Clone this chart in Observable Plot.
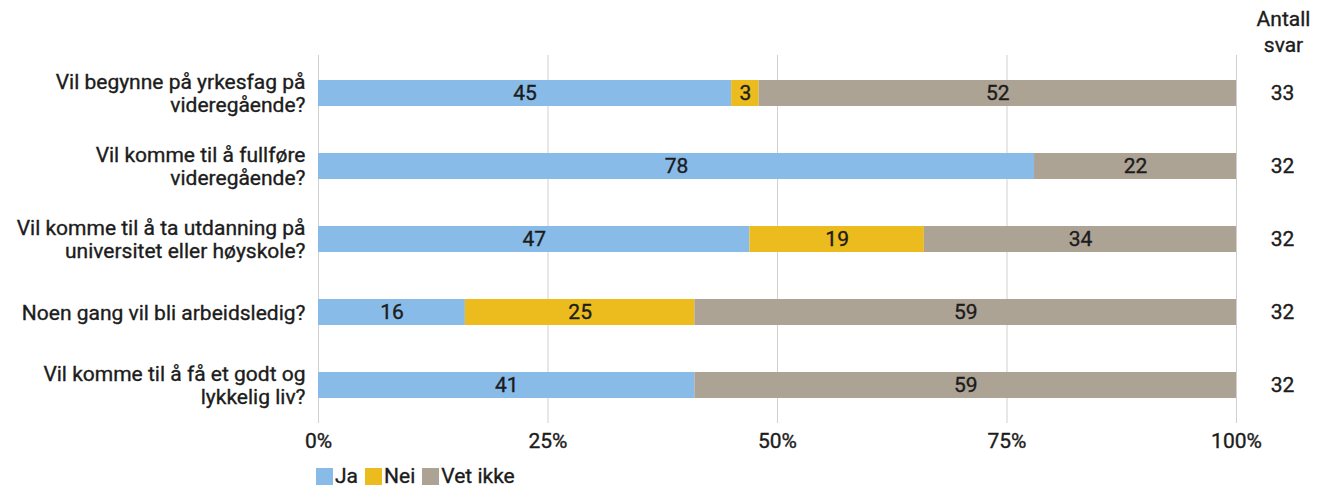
<!DOCTYPE html>
<html>
<head>
<meta charset="utf-8">
<script src="https://cdn.jsdelivr.net/npm/d3@7"></script>
<script src="https://cdn.jsdelivr.net/npm/@observablehq/plot@0.6"></script>
<style>
  html, body { margin: 0; padding: 0; background: #fff; }
  body { width: 1326px; height: 492px; font-family: Roboto, "Noto Sans", sans-serif; color: #1c1c1c; }
  #legend { display: flex; gap: 7px; margin-left: 316px; margin-top: 9px; font-size: 21px; align-items: center; -webkit-text-stroke: 0.35px #1c1c1c; }
  .item { display: flex; align-items: center; gap: 2px; }
  .sw { width: 17px; height: 17px; display: inline-block; }
  svg text { stroke: #1c1c1c; stroke-width: 0.35px; }
</style>
</head>
<body>
<div id="chart"></div>
<div id="legend"></div>
<script>
const questions = [
  "Vil begynne på yrkesfag på\nvideregående?",
  "Vil komme til å fullføre\nvideregående?",
  "Vil komme til å ta utdanning på\nuniversitet eller høyskole?",
  "Noen gang vil bli arbeidsledig?",
  "Vil komme til å få et godt og\nlykkelig liv?"
];
const categories = ["Ja", "Nei", "Vet ikke"];
const ja = [45, 78, 47, 16, 41];
const nei = [3, 0, 19, 25, 0];
const vetIkke = [52, 22, 34, 59, 59];
const antall = [33, 32, 32, 32, 32];
const xTicks = [0, 25, 50, 75, 100];
const colors = ["#89bbe8", "#ecbc1e", "#aca395"];

const series = [ja, nei, vetIkke];
const data = [];
questions.forEach((q, i) => {
  categories.forEach((c, j) => data.push({q, cat: c, value: series[j][i]}));
});
const counts = questions.map((q, i) => ({q, n: antall[i]}));

const FS = 21;
const chart = Plot.plot({
  width: 1326,
  height: 455,
  marginLeft: 318,
  marginRight: 90,
  marginTop: 55,
  marginBottom: 32,
  style: {fontFamily: "Roboto, 'Noto Sans', sans-serif", fontSize: FS + "px", color: "#1c1c1c", background: "#fff"},
  x: {domain: [0, 100], ticks: xTicks},
  y: {domain: questions, paddingInner: 0.64, paddingOuter: 0.32},
  color: {domain: categories, range: colors},
  marks: [
    Plot.gridX(xTicks, {stroke: "#d0d0d0", strokeOpacity: 1}),
    Plot.barX(data, {x: "value", y: "q", fill: "cat", order: categories}),
    Plot.text(data.filter(d => d.value > 0), Plot.stackX({x: "value", y: "q", z: "cat", order: categories, text: d => String(d.value), fill: "#1c1c1c", fontSize: FS})),
    Plot.axisX({ticks: xTicks, tickFormat: d => d + "%", tickSize: 0, tickPadding: 10, fontSize: FS, anchor: "bottom", label: null}),
    Plot.axisY({tickSize: 0, tickPadding: 13, fontSize: FS, label: null, lineHeight: 1.1}),
    Plot.text(counts, {y: "q", text: d => String(d.n), frameAnchor: "right", textAnchor: "middle", dx: 46, fontSize: FS, fill: "#1c1c1c"}),
    Plot.text(["Antall\nsvar"], {frameAnchor: "top-right", textAnchor: "middle", dx: 47, dy: -4, fontSize: FS, fill: "#1c1c1c", lineAnchor: "bottom", lineHeight: 1.2})
  ]
});
document.getElementById("chart").appendChild(chart);

const legend = document.getElementById("legend");
categories.forEach((c, i) => {
  const item = document.createElement("span");
  item.className = "item";
  const sw = document.createElement("span");
  sw.className = "sw";
  sw.style.background = colors[i];
  item.appendChild(sw);
  item.appendChild(document.createTextNode(c));
  legend.appendChild(item);
});
</script>
</body>
</html>
